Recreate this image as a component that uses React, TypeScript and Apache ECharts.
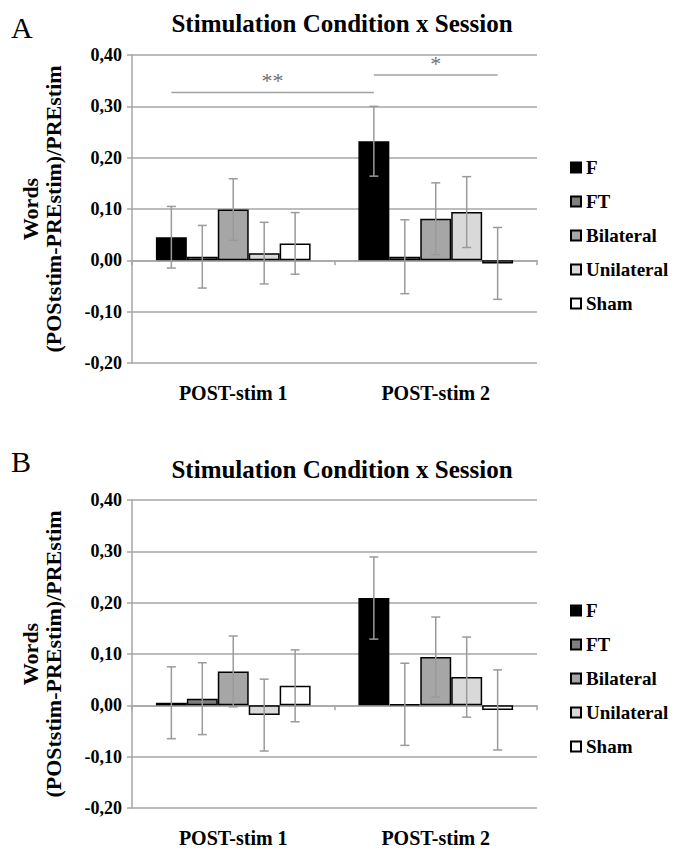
import React, { useEffect, useRef } from 'react';
import * as echarts from 'echarts';

const sessions = ['POST-stim 1', 'POST-stim 2'];
const conditions = ['F', 'FT', 'Bilateral', 'Unilateral', 'Sham'];
const fills = ['#000000', '#7f7f7f', '#a6a6a6', '#d9d9d9', '#ffffff'];

// Panel A: mean per condition [POST-stim 1, POST-stim 2]
const meansA = [
  [0.045, 0.232],
  [0.007, 0.007],
  [0.099, 0.081],
  [0.014, 0.094],
  [0.033, -0.006],
];
const errA = [
  [0.06, 0.068],
  [0.061, 0.072],
  [0.06, 0.07],
  [0.06, 0.069],
  [0.06, 0.07],
];
// Panel B
const meansB = [
  [0.005, 0.209],
  [0.013, 0.002],
  [0.066, 0.094],
  [-0.019, 0.055],
  [0.038, -0.009],
];
const errB = [
  [0.07, 0.08],
  [0.07, 0.08],
  [0.069, 0.078],
  [0.07, 0.078],
  [0.07, 0.078],
];
// significance brackets (panel A): from [session, condition] to [session, condition]
const sigFrom = [[0, 0], [1, 0]];
const sigTo = [[1, 0], [1, 4]];
const sigY = [0.327, 0.361];
const sigLabels = ['**', '*'];

const yMin = -0.2;
const yMax = 0.4;
const yStep = 0.1;

const panelTitle = 'Stimulation Condition x Session';
const yName = 'Words\n(POStstim-PREstim)/PREstim';
const panelLetters = ['A', 'B'];

const FONT = 'Liberation Serif, DejaVu Serif, serif';
const CAT_GAP = 0.236;
const GRID_LINE = '#a6a6a6';

function barCenter(api: any, cat: number, cond: number) {
  const band = api.size([1, 0])[0];
  const groupW = band * (1 - CAT_GAP);
  const bw = groupW / conditions.length;
  return api.coord([cat, 0])[0] - groupW / 2 + (cond + 0.5) * bw;
}

export default function App() {
  const ref = useRef<HTMLDivElement>(null);
  useEffect(() => {
    if (!ref.current) return;
    const chart = echarts.init(ref.current, null, { renderer: 'svg' });
    const tops = [55, 500];
    const grids = tops.map((t) => ({
      left: 132,
      width: 405,
      top: t,
      height: 308,
      containLabel: false,
      outerBoundsMode: 'none',
    }));

    const xAxes = [0, 1].map((p) => ({
      type: 'category',
      gridIndex: p,
      data: sessions,
      axisLine: { show: true, onZero: true, lineStyle: { color: GRID_LINE, width: 1.5 } },
      axisTick: { show: true, length: 5, lineStyle: { color: GRID_LINE, width: 1.5 } },
      axisLabel: {
        margin: 20,
        fontFamily: FONT,
        fontWeight: 'bold',
        fontSize: 20,
        color: '#000',
      },
    }));
    const yAxes = [0, 1].map((p) => ({
      type: 'value',
      gridIndex: p,
      min: yMin,
      max: yMax,
      interval: yStep,
      name: yName,
      nameLocation: 'middle',
      nameGap: 67,
      nameTextStyle: {
        fontFamily: FONT,
        fontWeight: 'bold',
        fontSize: 22,
        color: '#000',
        lineHeight: 23,
      },
      axisLine: { show: true, lineStyle: { color: GRID_LINE, width: 1.5 } },
      axisTick: { show: true, length: 5, lineStyle: { color: GRID_LINE, width: 1.5 } },
      splitLine: { show: true, lineStyle: { color: GRID_LINE, width: 1.5 } },
      axisLabel: {
        margin: 10,
        fontFamily: FONT,
        fontWeight: 'bold',
        fontSize: 18,
        color: '#000',
        formatter: (v: number) => v.toFixed(2).replace('.', ','),
      },
    }));

    const series: any[] = [];
    const panels = [
      { means: meansA, errs: errA },
      { means: meansB, errs: errB },
    ];
    panels.forEach((pd, p) => {
      conditions.forEach((name, i) => {
        series.push({
          name,
          type: 'bar',
          xAxisIndex: p,
          yAxisIndex: p,
          data: pd.means[i],
          barGap: '0%',
          barCategoryGap: CAT_GAP * 100 + '%',
          itemStyle: { color: fills[i], borderColor: '#000', borderWidth: 1.5 },
          z: 2,
        });
      });
      const errData: number[][] = [];
      conditions.forEach((_, i) => {
        sessions.forEach((_, c) => {
          errData.push([c, pd.means[i][c], pd.errs[i][c], i]);
        });
      });
      series.push({
        type: 'custom',
        xAxisIndex: p,
        yAxisIndex: p,
        z: 10,
        silent: true,
        data: errData,
        encode: { x: 0, y: 1 },
        renderItem: (params: any, api: any) => {
          const c = api.value(0);
          const v = api.value(1);
          const e = api.value(2);
          const s = api.value(3);
          const x = barCenter(api, c, s);
          const yt = api.coord([c, v + e])[1];
          const yb = api.coord([c, v - e])[1];
          const cap = 4.5;
          const st = { stroke: '#9a9a9a', lineWidth: 1.5 };
          return {
            type: 'group',
            children: [
              { type: 'line', shape: { x1: x, y1: yt, x2: x, y2: yb }, style: st },
              { type: 'line', shape: { x1: x - cap, y1: yt, x2: x + cap, y2: yt }, style: st },
              { type: 'line', shape: { x1: x - cap, y1: yb, x2: x + cap, y2: yb }, style: st },
            ],
          };
        },
      });
    });
    // significance brackets on panel A
    series.push({
      type: 'custom',
      xAxisIndex: 0,
      yAxisIndex: 0,
      z: 10,
      silent: true,
      data: sigY.map((y, k) => [sigFrom[k][0], y, sigFrom[k][1], sigTo[k][0], sigTo[k][1]]),
      encode: { x: 0, y: 1 },
      renderItem: (params: any, api: any) => {
        const k = params.dataIndex;
        const y = api.coord([0, api.value(1)])[1];
        const x1 = barCenter(api, api.value(0), api.value(2));
        const x2 = barCenter(api, api.value(3), api.value(4));
        return {
          type: 'group',
          children: [
            { type: 'line', shape: { x1, y1: y, x2, y2: y }, style: { stroke: '#a0a0a0', lineWidth: 1.5 } },
            {
              type: 'text',
              x: (x1 + x2) / 2,
              y: y - 1,
              style: {
                text: sigLabels[k],
                fill: '#707070',
                fontSize: 22,
                fontFamily: FONT,
                align: 'center',
                verticalAlign: 'bottom',
              },
            },
          ],
        };
      },
    });

    const titles = [0, 1].map((p) => ({
      text: panelTitle,
      left: 'center',
      top: p === 0 ? 6 : 452,
      textStyle: { fontFamily: FONT, fontWeight: 'bold', fontSize: 25, color: '#000' },
    }));
    const legends = [0, 1].map((p) => ({
      orient: 'vertical',
      left: 565,
      top: p === 0 ? 153 : 596,
      itemWidth: 10,
      itemHeight: 10,
      itemGap: 15,
      icon: 'rect',
      selectedMode: false,
      data: conditions,
      textStyle: { fontFamily: FONT, fontWeight: 'bold', fontSize: 19, color: '#000' },
    }));

    chart.setOption({
      animation: false,
      backgroundColor: '#fff',
      title: titles,
      legend: legends,
      grid: grids,
      xAxis: xAxes,
      yAxis: yAxes,
      series,
      graphic: panelLetters.map((L, p) => ({
        type: 'text',
        left: 11,
        top: p === 0 ? 12 : 446,
        style: { text: L, fontFamily: FONT, fontSize: 30, fill: '#000' },
      })),
    });
    return () => chart.dispose();
  }, []);
  return (
    <div
      ref={ref}
      style={{ position: 'absolute', left: 0, top: 0, width: 684, height: 850 }}
    />
  );
}
